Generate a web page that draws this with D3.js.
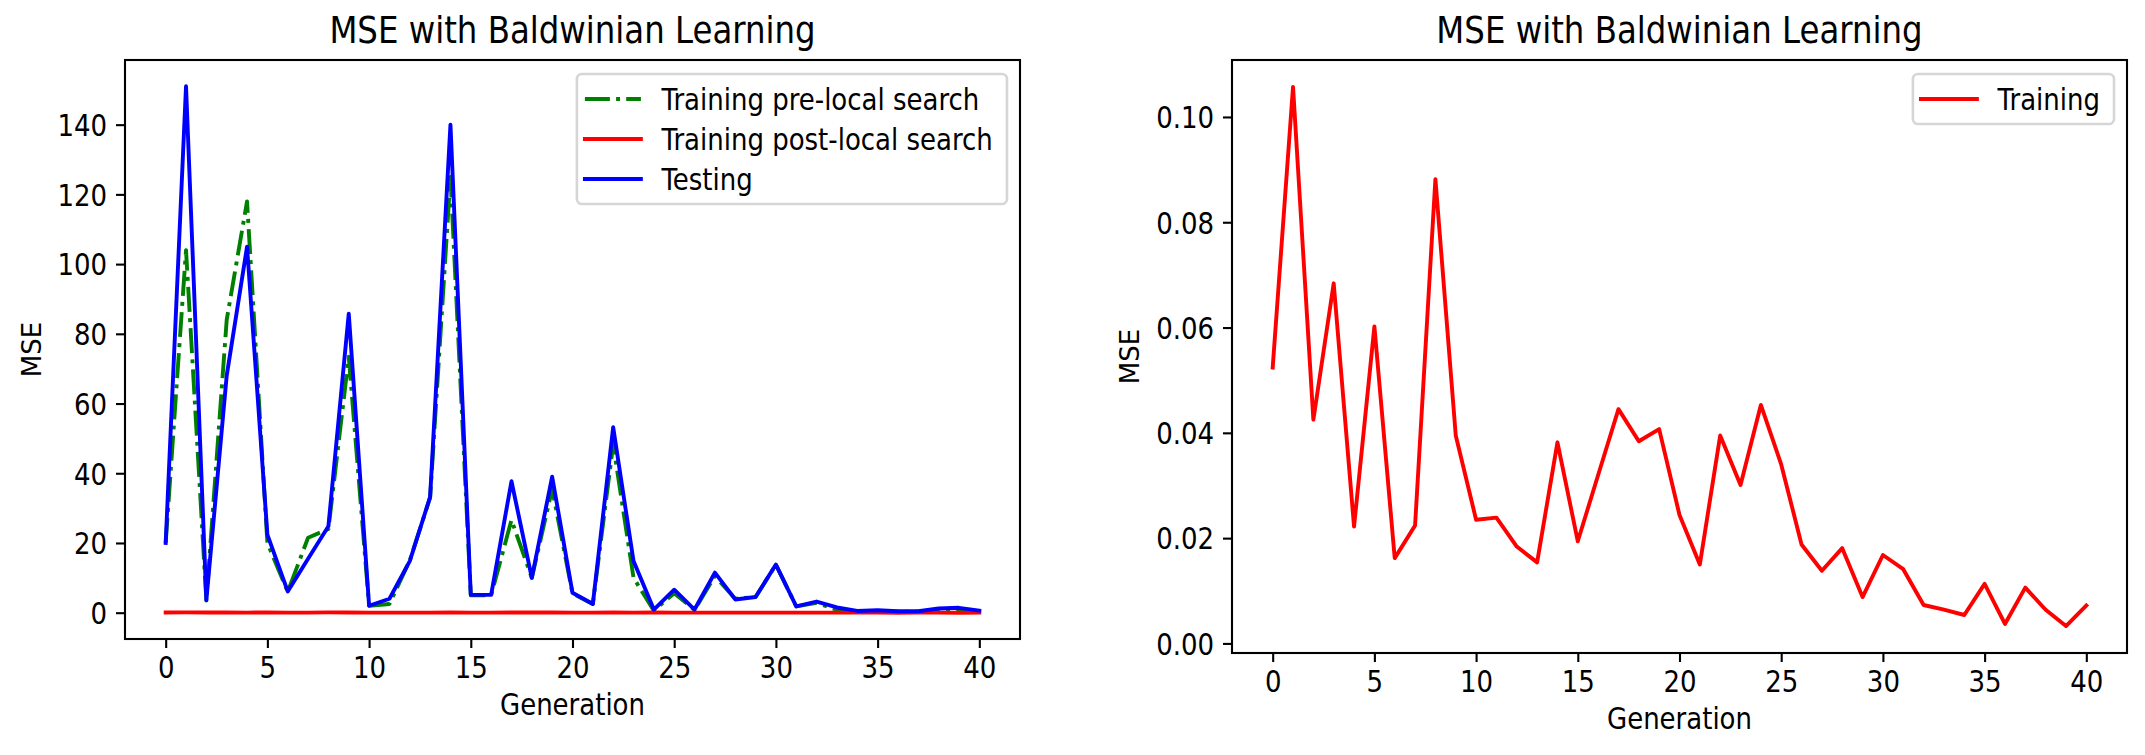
<!DOCTYPE html>
<html><head><meta charset="utf-8">
<script src="https://cdn.jsdelivr.net/npm/d3@7"></script>
<style>
body{margin:0;background:#fff;}
svg{display:block;}
text{font-family:"DejaVu Sans",sans-serif;fill:#000;}
</style>
</head><body>
<svg id="chart" width="2145" height="755"></svg>
<script>
// ---------------- data ----------------
const generations = [0,1,2,3,4,5,6,7,8,9,10,11,12,13,14,15,16,17,18,19,20,21,22,23,24,25,26,27,28,29,30,31,32,33,34,35,36,37,38,39,40];
const trainingPre = [20,104,3.5,84,118,20,6,21.5,24,73.4,2,2.5,15,33,125,5,5,26.6,10,35.5,5.5,2.5,48.3,10,0.6,5.6,0.8,10.5,4,4.5,13.8,1.8,2.8,0.8,0.3,0.5,0.3,0.3,0.9,1.0,0.4];
const testing = [20,151,3.6,68,105,22.4,6.1,15.5,24.8,85.8,2,4,14.8,33.2,140,5.1,5.1,37.7,10,39,5.7,2.5,53.2,14.8,0.9,6.6,0.9,11.5,3.8,4.5,13.8,1.8,3.2,1.5,0.5,0.7,0.4,0.4,1.2,1.4,0.6];
const trainingPost = [0.0524,0.1057,0.0425,0.0684,0.0222,0.0602,0.0162,0.0224,0.0882,0.0395,0.0235,0.0239,0.0184,0.0154,0.0382,0.0194,0.032,0.0445,0.0384,0.0407,0.0244,0.015,0.0395,0.0301,0.0453,0.034,0.0188,0.0138,0.0181,0.0088,0.0168,0.0141,0.0073,0.0064,0.0054,0.0113,0.0037,0.0106,0.0064,0.0033,0.0072];
const trainingRight = trainingPost;
const xTicks = [0,5,10,15,20,25,30,35,40];
const leftYTicks = [0,20,40,60,80,100,120,140];
const rightYTicks = [0,0.02,0.04,0.06,0.08,0.10];
const titleText = "MSE with Baldwinian Learning";
const xLabel = "Generation";
const yLabel = "MSE";
const leftSeries = [
  {name:"Training pre-local search", values:trainingPre, color:"#008000", dash:"25,6.2,3.9,6.2"},
  {name:"Training post-local search", values:trainingPost, color:"#ff0000", dash:null},
  {name:"Testing", values:testing, color:"#0000ff", dash:null}
];
const rightSeries = [
  {name:"Training", values:trainingRight, color:"#ff0000", dash:null}
];

// ---------------- drawing ----------------
const svg = d3.select("#chart");
const FS = 26, LW = 3.9, TICK = 9, PAD = 9, SY = 1.16;

function stretch(sel, cy){
  sel.attr("transform", `translate(0,${cy}) scale(1,${SY}) translate(0,${-cy})`);
}

function padDomain(arrs){
  const all = [].concat(...arrs);
  const [lo, hi] = d3.extent(all);
  const m = (hi - lo) * 0.05;
  return [lo - m, hi + m];
}

function panel(cfg){
  const {x0,x1,y0,y1,series,yTicks,yFmt,yLabelX} = cfg;
  const g = svg.append("g");
  const x = d3.scaleLinear().domain([-2, 42]).range([x0, x1]);
  const y = d3.scaleLinear().domain(padDomain(series.map(s=>s.values))).range([y1, y0]);

  // axes
  const xa = g.append("g").attr("transform",`translate(0,${y1})`)
    .call(d3.axisBottom(x).tickValues(xTicks).tickSize(TICK).tickPadding(PAD).tickFormat(d3.format("d")));
  const ya = g.append("g").attr("transform",`translate(${x0},0)`)
    .call(d3.axisLeft(y).tickValues(yTicks).tickSize(TICK).tickPadding(PAD).tickFormat(yFmt));
  [xa,ya].forEach(a=>{
    a.select(".domain").remove();
    a.selectAll(".tick line").attr("stroke","#000").attr("stroke-width",2.1);
    a.selectAll(".tick text").attr("font-size",FS).attr("font-family","DejaVu Sans").attr("fill","#000");
  });
  const xb = TICK+PAD+0.76*FS;
  xa.selectAll(".tick text").attr("dy",null).attr("y",xb);
  stretch(xa.selectAll(".tick text"), xb-0.36*FS);
  ya.selectAll(".tick text").attr("dy","0.36em");
  stretch(ya.selectAll(".tick text"), 0);

  // lines
  const clipId = "clip"+x0;
  g.append("clipPath").attr("id",clipId).append("rect")
    .attr("x",x0).attr("y",y0).attr("width",x1-x0).attr("height",y1-y0);
  const line = d3.line().x((d,i)=>x(generations[i])).y(d=>y(d));
  series.forEach(s=>{
    g.append("path").datum(s.values)
      .attr("clip-path",`url(#${clipId})`)
      .attr("d",line).attr("fill","none").attr("stroke",s.color)
      .attr("stroke-width",LW).attr("stroke-linejoin","round")
      .attr("stroke-linecap", s.dash ? "butt" : "square")
      .attr("stroke-dasharray", s.dash);
  });

  // spines
  g.append("rect").attr("x",x0).attr("y",y0).attr("width",x1-x0).attr("height",y1-y0)
    .attr("fill","none").attr("stroke","#000").attr("stroke-width",2.1);

  // title & labels
  const tb = y0-17;
  g.append("text").attr("x",(x0+x1)/2).attr("y",tb).attr("text-anchor","middle")
    .attr("font-size",32.4).text(titleText).call(stretch, tb);
  const lb = y1+75;
  g.append("text").attr("x",(x0+x1)/2).attr("y",lb).attr("text-anchor","middle")
    .attr("font-size",FS).text(xLabel).call(stretch, lb-0.36*FS);
  g.append("text").attr("transform",`translate(${yLabelX},${(y0+y1)/2}) rotate(-90)`)
    .attr("text-anchor","middle").attr("font-size",FS).text(yLabel);

  // legend
  const lg = g.append("g");
  const tmp = lg.append("text").attr("font-size",FS);
  let maxW = 0;
  series.forEach(s=>{ tmp.text(s.name); maxW = Math.max(maxW, tmp.node().getComputedTextLength()); });
  tmp.remove();
  const padL = 8, hl = 56, htp = 20.5, padR = 14, padT = 22, pitch = 40;
  const w = padL + hl + htp + maxW + padR;
  const h = 2*padT + (series.length-1)*pitch + 6;
  const lx = x1 - 13 - w, ly = y0 + 14;
  lg.append("rect").attr("x",lx).attr("y",ly).attr("width",w).attr("height",h)
    .attr("rx",5).attr("ry",5).attr("fill","#fff").attr("fill-opacity",0.8)
    .attr("stroke","#d6d6d6").attr("stroke-width",2.6);
  series.forEach((s,i)=>{
    const cy = ly + padT + 3 + i*pitch;
    lg.append("line").attr("x1",lx+padL).attr("x2",lx+padL+hl).attr("y1",cy).attr("y2",cy)
      .attr("stroke",s.color).attr("stroke-width",LW).attr("stroke-dasharray",s.dash)
      .attr("stroke-linecap", s.dash ? "butt" : "square");
    lg.append("text").attr("x",lx+padL+hl+htp).attr("y",cy).attr("dy","0.36em")
      .attr("font-size",FS).text(s.name).call(stretch, cy);
  });
}

panel({x0:125, x1:1020, y0:60, y1:639, series:leftSeries, yTicks:leftYTicks,
       yFmt:d3.format("d"), yLabelX:40.7});
panel({x0:1232, x1:2127, y0:60, y1:653, series:rightSeries, yTicks:rightYTicks,
       yFmt:d3.format(".2f"), yLabelX:1139});
</script>
</body></html>
